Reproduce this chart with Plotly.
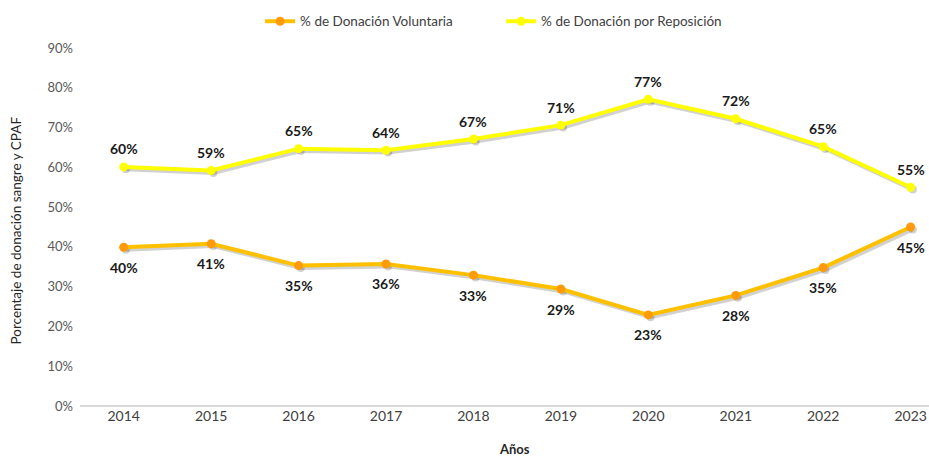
import plotly.graph_objects as go

years = ["2014", "2015", "2016", "2017", "2018", "2019", "2020", "2021", "2022", "2023"]
voluntaria = [0.399, 0.408, 0.353, 0.357, 0.329, 0.294, 0.229, 0.278, 0.348, 0.450]
reposicion = [0.601, 0.592, 0.647, 0.643, 0.671, 0.706, 0.771, 0.722, 0.652, 0.550]
y_ticks = [0, 0.1, 0.2, 0.3, 0.4, 0.5, 0.6, 0.7, 0.8, 0.9]

FONT = "Lato, 'Open Sans', sans-serif"
xs = list(range(len(years)))

fig = go.Figure()

# shadows
for vals in (voluntaria, reposicion):
    fig.add_trace(go.Scatter(
        x=[x + 0.025 for x in xs], y=[v - 0.006 for v in vals],
        mode="lines+markers", line=dict(color="rgba(0,0,0,0.18)", width=4),
        marker=dict(size=8, color="rgba(0,0,0,0.18)"),
        showlegend=False, hoverinfo="skip", cliponaxis=False))

fig.add_trace(go.Scatter(
    x=xs, y=voluntaria, name="% de Donación Voluntaria",
    mode="lines+markers",
    line=dict(color="#FFC000", width=4),
    marker=dict(size=9, color="#FF9A0A"), cliponaxis=False,
))
fig.add_trace(go.Scatter(
    x=xs, y=reposicion, name="% de Donación por Reposición",
    mode="lines+markers",
    line=dict(color="#FFFF00", width=4),
    marker=dict(size=9, color="#FFFF00"), cliponaxis=False,
))

label_font = dict(family=FONT, size=14, color="#1a1a1a", weight="bold")
annotations = []
for x, v in zip(xs, voluntaria):
    annotations.append(dict(x=x, y=v, xref="x", yref="y", text=f"{round(v*100)}%",
                            showarrow=False, yshift=-20, font=label_font))
for x, v in zip(xs, reposicion):
    annotations.append(dict(x=x, y=v, xref="x", yref="y", text=f"{round(v*100)}%",
                            showarrow=False, yshift=18, font=label_font))
annotations += [
    dict(text="Porcentaje de donación sangre y CPAF", textangle=-90,
         xref="paper", x=-0.0755, xanchor="center", yref="paper", y=0.49, yanchor="middle",
         showarrow=False, font=dict(size=13.5, color="#262626")),
    dict(text="<b>Años</b>", xref="paper", x=0.5115, xanchor="center",
         yref="paper", y=-0.12, yanchor="middle", showarrow=False,
         font=dict(size=13, color="#262626")),
]

fig.update_layout(
    width=929, height=457,
    margin=dict(l=80, r=0, t=48, b=51, autoexpand=False),
    paper_bgcolor="white", plot_bgcolor="white",
    font=dict(family=FONT, size=13, color="#404040"),
    showlegend=True,
    legend=dict(orientation="h", xref="container", x=0.280, xanchor="left",
                yref="container", y=0.987, yanchor="top",
                font=dict(size=13.5, color="#404040"),
                entrywidth=196, entrywidthmode="pixels", itemwidth=30),
    xaxis=dict(range=[-0.5, 9.21], tickvals=xs, ticktext=years, automargin=False,
               showgrid=False, zeroline=False, showline=False,
               tickfont=dict(size=14, color="#404040"), ticks=""),
    yaxis=dict(range=[0, 0.9], tickvals=y_ticks, tickformat=".0%", automargin=False,
               showgrid=False, zeroline=True, zerolinecolor="#D9D9D9", zerolinewidth=1.5,
               showline=False, ticks="", ticklabelstandoff=6,
               tickfont=dict(size=13, color="#595959")),
    annotations=annotations,
)

fig.write_html("out.html", config={"displayModeBar": False},
               post_script="document.body.style.margin='0';")
